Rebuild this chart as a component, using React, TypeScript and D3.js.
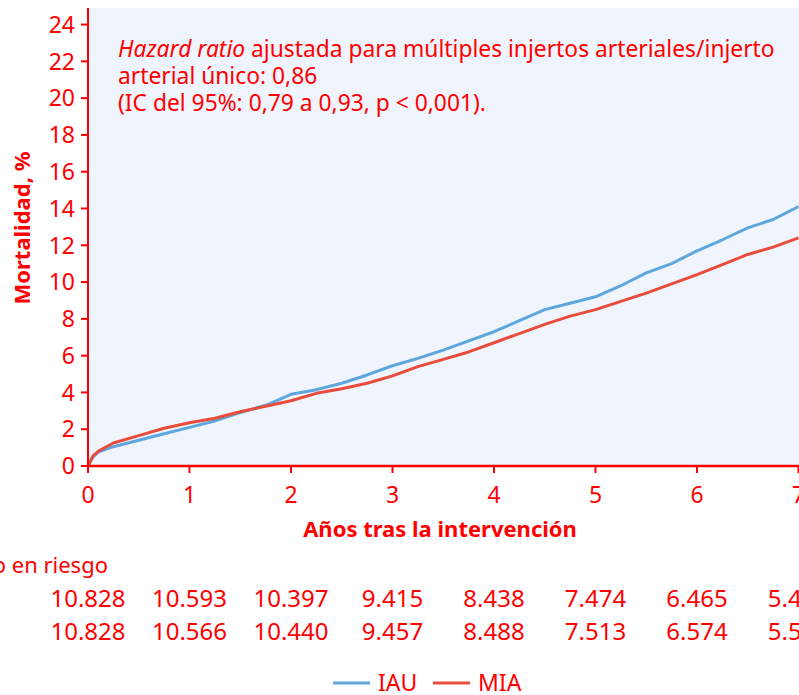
import React from "react";
import * as d3 from "d3";

const years = [0, 0.05, 0.1, 0.25, 0.5, 0.75, 1, 1.25, 1.5, 1.75, 2, 2.25, 2.5, 2.75, 3, 3.25, 3.5, 3.75, 4, 4.25, 4.5, 4.75, 5, 5.25, 5.5, 5.75, 6, 6.25, 6.5, 6.75, 7];
const iau = [0, 0.5, 0.75, 1.05, 1.4, 1.75, 2.1, 2.45, 2.9, 3.3, 3.9, 4.15, 4.5, 4.95, 5.45, 5.85, 6.3, 6.8, 7.3, 7.9, 8.5, 8.85, 9.2, 9.8, 10.5, 11.0, 11.7, 12.3, 12.95, 13.4, 14.1];
const mia = [0, 0.55, 0.8, 1.25, 1.65, 2.05, 2.35, 2.6, 2.95, 3.25, 3.55, 3.95, 4.2, 4.5, 4.9, 5.4, 5.8, 6.2, 6.7, 7.2, 7.7, 8.15, 8.5, 8.95, 9.4, 9.9, 10.4, 10.95, 11.5, 11.9, 12.4];

const xTicks = [0, 1, 2, 3, 4, 5, 6, 7];
const yTicks = [0, 2, 4, 6, 8, 10, 12, 14, 16, 18, 20, 22, 24];
const riskIAU = ["10.828", "10.593", "10.397", "9.415", "8.438", "7.474", "6.465", "5.412"];
const riskMIA = ["10.828", "10.566", "10.440", "9.457", "8.488", "7.513", "6.574", "5.529"];
const seriesNames = ["IAU", "MIA"];
const seriesColors = ["#5ea6de", "#ea4c3c"];

const annotation = [
  { italic: "Hazard ratio", rest: " ajustada para múltiples injertos arteriales/injerto" },
  { italic: "", rest: "arterial único: 0,86" },
  { italic: "", rest: "(IC del 95%: 0,79 a 0,93, p < 0,001)." },
];

const RED = "#ff0000";
const FONT = "'Noto Sans', sans-serif";

export default function App() {
  const W = 799, H = 695;
  const x = d3.scaleLinear().domain([0, 7]).range([88, 798.5]);
  const y = d3.scaleLinear().domain([0, 24.9]).range([466, 8]);
  const line = d3.line<number>().x((_, i) => x(years[i])).y((d) => y(d)).curve(d3.curveLinear);
  const series = [iau, mia];

  return (
    <div style={{ position: "absolute", left: 0, top: 0 }}>
      <svg width={W} height={H} style={{ display: "block", background: "#fff" }} fontFamily={FONT}>
        <rect x={x(0)} y={y(24.9)} width={W - x(0)} height={y(0) - y(24.9)} fill="#f0f4fc" />
        {series.map((s, i) => (
          <path key={i} d={line(s) || ""} fill="none" stroke={seriesColors[i]} strokeWidth={3} strokeLinejoin="round" />
        ))}
        {/* y axis */}
        <line x1={x(0)} x2={x(0)} y1={y(24.9)} y2={y(0)} stroke={RED} strokeWidth={2} />
        {yTicks.map((t) => (
          <g key={t} transform={`translate(0,${y(t)})`}>
            <line x1={x(0) - 7} x2={x(0)} stroke={RED} strokeWidth={2} />
            <text x={x(0) - 13} dy="0.36em" textAnchor="end" fill={RED} fontSize={23}>{t}</text>
          </g>
        ))}
        {/* x axis */}
        <line x1={x(0)} x2={W} y1={y(0)} y2={y(0)} stroke={RED} strokeWidth={2.5} />
        {xTicks.map((t) => (
          <g key={t} transform={`translate(${x(t)},0)`}>
            <line y1={y(0)} y2={y(0) + 7} stroke={RED} strokeWidth={2} />
            <text y={503} textAnchor="middle" fill={RED} fontSize={23}>{t}</text>
          </g>
        ))}
        <text x={440} y={537} textAnchor="middle" fill={RED} fontSize={22} fontWeight="bold">Años tras la intervención</text>
        <text transform={`translate(30,228) rotate(-90)`} textAnchor="middle" fill={RED} fontSize={22} fontWeight="bold">Mortalidad, %</text>
        {/* annotation */}
        {annotation.map((a, i) => (
          <text key={i} x={118} y={57 + i * 27} fill={RED} fontSize={22.8}>
            {a.italic && <tspan fontStyle="italic">{a.italic}</tspan>}
            <tspan>{a.rest}</tspan>
          </text>
        ))}
        {/* risk table */}
        <text x={108} y={573} textAnchor="end" fill={RED} fontSize={22}>Número en riesgo</text>
        {[riskIAU, riskMIA].map((row, r) =>
          row.map((v, i) => (
            <text key={`${r}-${i}`} x={x(xTicks[i])} y={607 + r * 33} textAnchor="middle" fill={RED} fontSize={24}>{v}</text>
          ))
        )}
        {/* legend */}
        {seriesNames.map((n, i) => (
          <g key={n} transform={`translate(${333 + i * 100},683)`}>
            <line x1={0} x2={37} stroke={seriesColors[i]} strokeWidth={3} />
            <text x={45} dy="0.36em" fill={RED} fontSize={23}>{n}</text>
          </g>
        ))}
      </svg>
    </div>
  );
}
